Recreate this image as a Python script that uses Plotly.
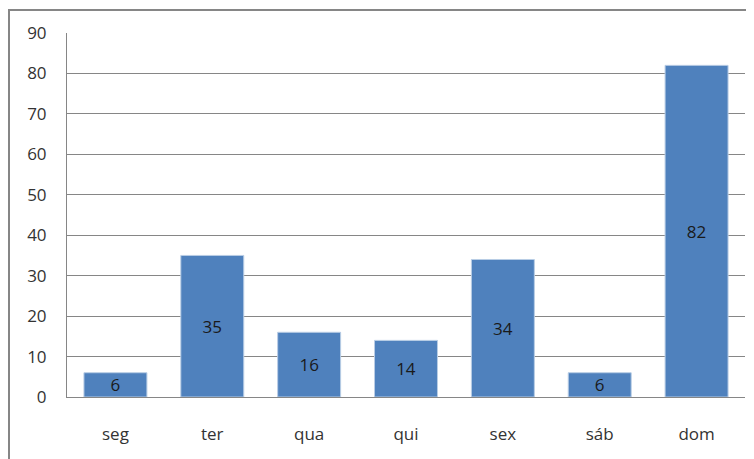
import plotly.graph_objects as go

categories = ["seg", "ter", "qua", "qui", "sex", "sáb", "dom"]
values = [6, 35, 16, 14, 34, 6, 82]
y_ticks = [0, 10, 20, 30, 40, 50, 60, 70, 80, 90]

# page body has an 8px margin; compensate
OFF = 8
W, H = 754 - OFF, 459 - OFF
L, T = 67 - OFF, 33 - OFF
PR, PB = 745 - OFF, 397 - OFF
R, B = W - PR, H - PB
pw, ph = PR - L, PB - T

fig = go.Figure(go.Bar(
    x=categories, y=values,
    marker=dict(color="#4F81BD", line=dict(color="#B9CDE5", width=1)),
    text=[str(v) for v in values],
    textposition="inside", insidetextanchor="middle",
    textfont=dict(family="Open Sans, DejaVu Sans", size=17, color="#1a1a1a"),
    textangle=0,
    constraintext="none",
))

fig.update_layout(
    width=W, height=H,
    margin=dict(l=L, r=R, t=T, b=B),
    paper_bgcolor="white", plot_bgcolor="white",
    bargap=0.35, showlegend=False,
    font=dict(family="Open Sans, DejaVu Sans", size=17, color="#333"),
    xaxis=dict(showline=True, linecolor="#868686", linewidth=1, showgrid=False,
               ticks="", ticklabelstandoff=22, tickfont=dict(size=17)),
    yaxis=dict(range=[0, 90], tickvals=y_ticks, showline=True, linecolor="#868686",
               linewidth=1, showgrid=True, gridcolor="#868686", gridwidth=1,
               ticks="", ticklabelstandoff=16, zeroline=False, tickfont=dict(size=17)),
    shapes=[dict(type="rect", xref="paper", yref="paper",
                 x0=(9 - OFF - L) / pw, x1=(753 - OFF - L) / pw,
                 y0=-0.3, y1=1 + (T - (10 - OFF)) / ph,
                 line=dict(color="#868686", width=2), layer="below")],
)

fig.write_html("out.html")
